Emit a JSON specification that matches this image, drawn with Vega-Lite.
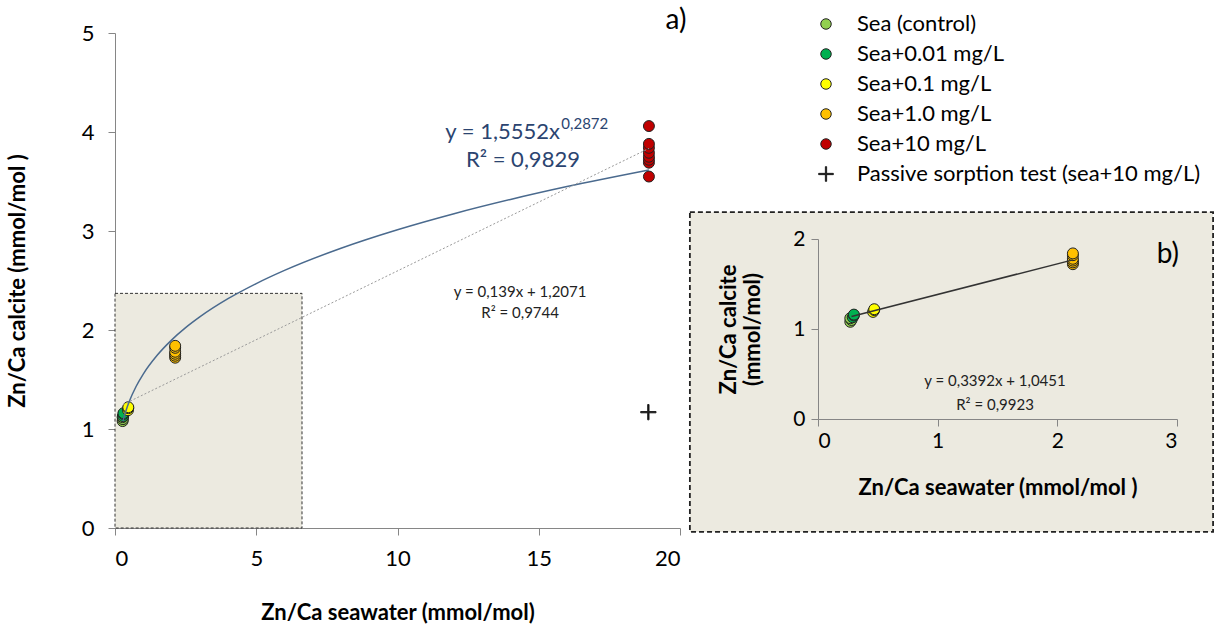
{
  "$schema": "https://vega.github.io/schema/vega-lite/v6.json",
  "width": 565,
  "height": 495,
  "autosize": {"type": "none"},
  "padding": {"left": 115, "top": 33, "right": 544, "bottom": 104},
  "background": "white",
  "config": {
    "view": {"stroke": null},
    "font": "Lato",
    "axis": {
      "grid": false,
      "domainColor": "#868686",
      "tickColor": "#868686",
      "tickSize": 7,
      "format": "d",
      "labelFont": "Lato",
      "labelFontSize": 22,
      "labelColor": "#000000",
      "titleFont": "Lato",
      "titleFontSize": 22,
      "titleFontWeight": "bold",
      "titleColor": "#000000"
    },
    "legend": {
      "labelFont": "Lato",
      "labelFontSize": 22,
      "labelColor": "#000000",
      "labelLimit": 420,
      "symbolSize": 110,
      "symbolStrokeColor": "#222222",
      "symbolStrokeWidth": 1,
      "rowPadding": 8,
      "labelOffset": 20,
      "padding": 0
    }
  },
  "datasets": {
    "pts": [
      {"series": "Sea (control)", "x": 0.27, "y": 1.08},
      {"series": "Sea (control)", "x": 0.28, "y": 1.1},
      {"series": "Sea (control)", "x": 0.27, "y": 1.12},
      {"series": "Sea+0.01 mg/L", "x": 0.29, "y": 1.13},
      {"series": "Sea+0.01 mg/L", "x": 0.3, "y": 1.15},
      {"series": "Sea+0.01 mg/L", "x": 0.3, "y": 1.16},
      {"series": "Sea+0.1 mg/L", "x": 0.46, "y": 1.19},
      {"series": "Sea+0.1 mg/L", "x": 0.47, "y": 1.21},
      {"series": "Sea+0.1 mg/L", "x": 0.47, "y": 1.22},
      {"series": "Sea+1.0 mg/L", "x": 2.13, "y": 1.72},
      {"series": "Sea+1.0 mg/L", "x": 2.13, "y": 1.74},
      {"series": "Sea+1.0 mg/L", "x": 2.13, "y": 1.76},
      {"series": "Sea+1.0 mg/L", "x": 2.13, "y": 1.78},
      {"series": "Sea+1.0 mg/L", "x": 2.13, "y": 1.82},
      {"series": "Sea+1.0 mg/L", "x": 2.13, "y": 1.84},
      {"series": "Sea+10 mg/L", "x": 18.9, "y": 3.55},
      {"series": "Sea+10 mg/L", "x": 18.9, "y": 3.69},
      {"series": "Sea+10 mg/L", "x": 18.9, "y": 3.72},
      {"series": "Sea+10 mg/L", "x": 18.9, "y": 3.75},
      {"series": "Sea+10 mg/L", "x": 18.9, "y": 3.79},
      {"series": "Sea+10 mg/L", "x": 18.9, "y": 3.84},
      {"series": "Sea+10 mg/L", "x": 18.9, "y": 3.88},
      {"series": "Sea+10 mg/L", "x": 18.9, "y": 4.06},
      {"series": "Passive sorption test (sea+10 mg/L)", "x": 18.88, "y": 1.17}
    ],
    "pow": [
      {"x": 0.28, "y": 1.079},
      {"x": 0.35, "y": 1.15},
      {"x": 0.4, "y": 1.195},
      {"x": 0.5, "y": 1.2745},
      {"x": 0.75, "y": 1.432},
      {"x": 1, "y": 1.5552},
      {"x": 1.5, "y": 1.747},
      {"x": 2, "y": 1.898},
      {"x": 2.5, "y": 2.0235},
      {"x": 3, "y": 2.132},
      {"x": 4, "y": 2.316},
      {"x": 5, "y": 2.469},
      {"x": 6, "y": 2.602},
      {"x": 8, "y": 2.826},
      {"x": 10, "y": 3.013},
      {"x": 12, "y": 3.175},
      {"x": 14, "y": 3.319},
      {"x": 16, "y": 3.449},
      {"x": 18.9, "y": 3.617}
    ],
    "lin": [
      {"x": 0.28, "y": 1.246},
      {"x": 18.9, "y": 3.834}
    ],
    "inlin": [
      {"x": 0.28, "y": 1.14},
      {"x": 2.13, "y": 1.768}
    ],
    "one": [{}]
  },
  "layer": [
    {
      "layer": [
        {
          "data": {"name": "one"},
          "mark": {"type": "rect", "fill": "#ECEAE0", "stroke": "#222222", "strokeDash": [5, 3], "strokeWidth": 1.8},
          "encoding": {
            "x": {"datum": 20.35, "type": "quantitative",
              "scale": {"domain": [0, 20], "nice": false, "zero": false},
              "axis": {"title": "Zn/Ca seawater (mmol/mol)", "values": [0, 5, 10, 15, 20], "labelPadding": 13, "titlePadding": 33}},
            "x2": {"datum": 38.87},
            "y": {"datum": 3.19, "type": "quantitative",
              "scale": {"domain": [0, 5], "nice": false, "zero": false},
              "axis": {"title": "Zn/Ca calcite (mmol/mol )", "values": [0, 1, 2, 3, 4, 5], "labelPadding": 14, "titlePadding": 52}},
            "y2": {"datum": -0.04}
          }
        },
        {
          "data": {"name": "one"},
          "mark": {"type": "rect", "fill": "#ECEAE0", "stroke": "#333333", "strokeDash": [3, 2], "strokeWidth": 1},
          "encoding": {
            "x": {"datum": 0, "type": "quantitative"},
            "x2": {"datum": 6.62},
            "y": {"datum": 2.37, "type": "quantitative"},
            "y2": {"datum": 0}
          }
        },
        {
          "data": {"name": "pts"},
          "mark": {"type": "point", "filled": true, "size": 120, "stroke": "#222222", "strokeWidth": 1, "opacity": 1},
          "encoding": {
            "x": {"field": "x", "type": "quantitative"},
            "y": {"field": "y", "type": "quantitative"},
            "color": {"field": "series", "type": "nominal", "title": null,
              "scale": {"domain": ["Sea (control)", "Sea+0.01 mg/L", "Sea+0.1 mg/L", "Sea+1.0 mg/L", "Sea+10 mg/L", "Passive sorption test (sea+10 mg/L)"],
                "range": ["#92D050", "#00B050", "#FFFF00", "#FFC000", "#C00000", "#000000"]},
              "legend": {"orient": "none", "legendX": 700, "legendY": -20}},
            "shape": {"field": "series", "type": "nominal", "title": null,
              "scale": {"domain": ["Sea (control)", "Sea+0.01 mg/L", "Sea+0.1 mg/L", "Sea+1.0 mg/L", "Sea+10 mg/L", "Passive sorption test (sea+10 mg/L)"],
                "range": ["circle", "circle", "circle", "circle", "circle", "M-1.4,-0.12H1.4V0.12H-1.4Z M-0.12,-1.4H0.12V1.4H-0.12Z"]},
              "legend": {"orient": "none", "legendX": 700, "legendY": -20}}
          }
        },
        {
          "data": {"name": "pow"},
          "mark": {"type": "line", "color": "#4A6A8E", "strokeWidth": 1.5, "interpolate": "monotone"},
          "encoding": {
            "x": {"field": "x", "type": "quantitative"},
            "y": {"field": "y", "type": "quantitative"}
          }
        },
        {
          "data": {"name": "lin"},
          "mark": {"type": "line", "color": "#9A9A9A", "strokeWidth": 1, "strokeDash": [2, 2]},
          "encoding": {
            "x": {"field": "x", "type": "quantitative"},
            "y": {"field": "y", "type": "quantitative"}
          }
        },
        {
          "data": {"name": "one"},
          "mark": {"type": "text", "text": "a)", "fontSize": 28, "align": "center", "baseline": "middle", "color": "#000000"},
          "encoding": {"x": {"datum": 19.86, "type": "quantitative"}, "y": {"datum": 5.12, "type": "quantitative"}}
        },
        {
          "data": {"name": "one"},
          "mark": {"type": "text", "text": "y = 1,5552x", "fontSize": 22, "align": "right", "baseline": "middle", "color": "#2B4470"},
          "encoding": {"x": {"datum": 15.75, "type": "quantitative"}, "y": {"datum": 4.0, "type": "quantitative"}}
        },
        {
          "data": {"name": "one"},
          "mark": {"type": "text", "text": "0,2872", "fontSize": 15, "align": "left", "baseline": "middle", "color": "#2B4470"},
          "encoding": {"x": {"datum": 15.8, "type": "quantitative"}, "y": {"datum": 4.08, "type": "quantitative"}}
        },
        {
          "data": {"name": "one"},
          "mark": {"type": "text", "text": "R² = 0,9829", "fontSize": 22, "align": "center", "baseline": "middle", "color": "#2B4470"},
          "encoding": {"x": {"datum": 14.44, "type": "quantitative"}, "y": {"datum": 3.72, "type": "quantitative"}}
        },
        {
          "data": {"name": "one"},
          "mark": {"type": "text", "text": "y = 0,139x + 1,2071", "fontSize": 15, "align": "center", "baseline": "middle", "color": "#222222"},
          "encoding": {"x": {"datum": 14.34, "type": "quantitative"}, "y": {"datum": 2.384, "type": "quantitative"}}
        },
        {
          "data": {"name": "one"},
          "mark": {"type": "text", "text": "R² = 0,9744", "fontSize": 15, "align": "center", "baseline": "middle", "color": "#222222"},
          "encoding": {"x": {"datum": 14.34, "type": "quantitative"}, "y": {"datum": 2.172, "type": "quantitative"}}
        },
        {
          "data": {"name": "one"},
          "mark": {"type": "text", "text": "y = 0,3392x + 1,0451", "fontSize": 15, "align": "center", "baseline": "middle", "color": "#222222"},
          "encoding": {"x": {"datum": 31.15, "type": "quantitative"}, "y": {"datum": 1.485, "type": "quantitative"}}
        },
        {
          "data": {"name": "one"},
          "mark": {"type": "text", "text": "R² = 0,9923", "fontSize": 15, "align": "center", "baseline": "middle", "color": "#222222"},
          "encoding": {"x": {"datum": 31.15, "type": "quantitative"}, "y": {"datum": 1.242, "type": "quantitative"}}
        },
        {
          "data": {"name": "one"},
          "mark": {"type": "text", "text": "b)", "fontSize": 28, "align": "center", "baseline": "middle", "color": "#000000"},
          "encoding": {"x": {"datum": 37.27, "type": "quantitative"}, "y": {"datum": 2.76, "type": "quantitative"}}
        }
      ]
    },
    {
      "layer": [
        {
          "data": {"name": "pts"},
          "transform": [{"filter": "datum.series != 'Sea+10 mg/L' && datum.series != 'Passive sorption test (sea+10 mg/L)'"}],
          "mark": {"type": "point", "filled": true, "size": 120, "stroke": "#222222", "strokeWidth": 1, "opacity": 1},
          "encoding": {
            "x": {"field": "x", "type": "quantitative",
              "scale": {"domain": [0, 3], "range": [703, 1062], "nice": false, "zero": false},
              "axis": {"orient": "bottom", "offset": -109, "zindex": 1, "title": "Zn/Ca seawater (mmol/mol )", "values": [0, 1, 2, 3], "labelFontSize": 21, "labelPadding": 4, "titlePadding": 26}},
            "y": {"field": "y", "type": "quantitative",
              "scale": {"domain": [0, 2], "range": [386, 206], "nice": false, "zero": false},
              "axis": {"orient": "left", "offset": -703, "zindex": 1, "title": ["Zn/Ca calcite", "(mmol/mol)"], "values": [0, 1, 2], "labelFontSize": 21, "labelPadding": 6, "titlePadding": 28}},
            "color": {"field": "series", "type": "nominal"},
            "shape": {"field": "series", "type": "nominal"}
          }
        },
        {
          "data": {"name": "inlin"},
          "mark": {"type": "line", "color": "#333333", "strokeWidth": 1.5},
          "encoding": {
            "x": {"field": "x", "type": "quantitative"},
            "y": {"field": "y", "type": "quantitative"}
          }
        }
      ]
    }
  ],
  "resolve": {"scale": {"x": "independent", "y": "independent"}, "axis": {"x": "independent", "y": "independent"}}
}
